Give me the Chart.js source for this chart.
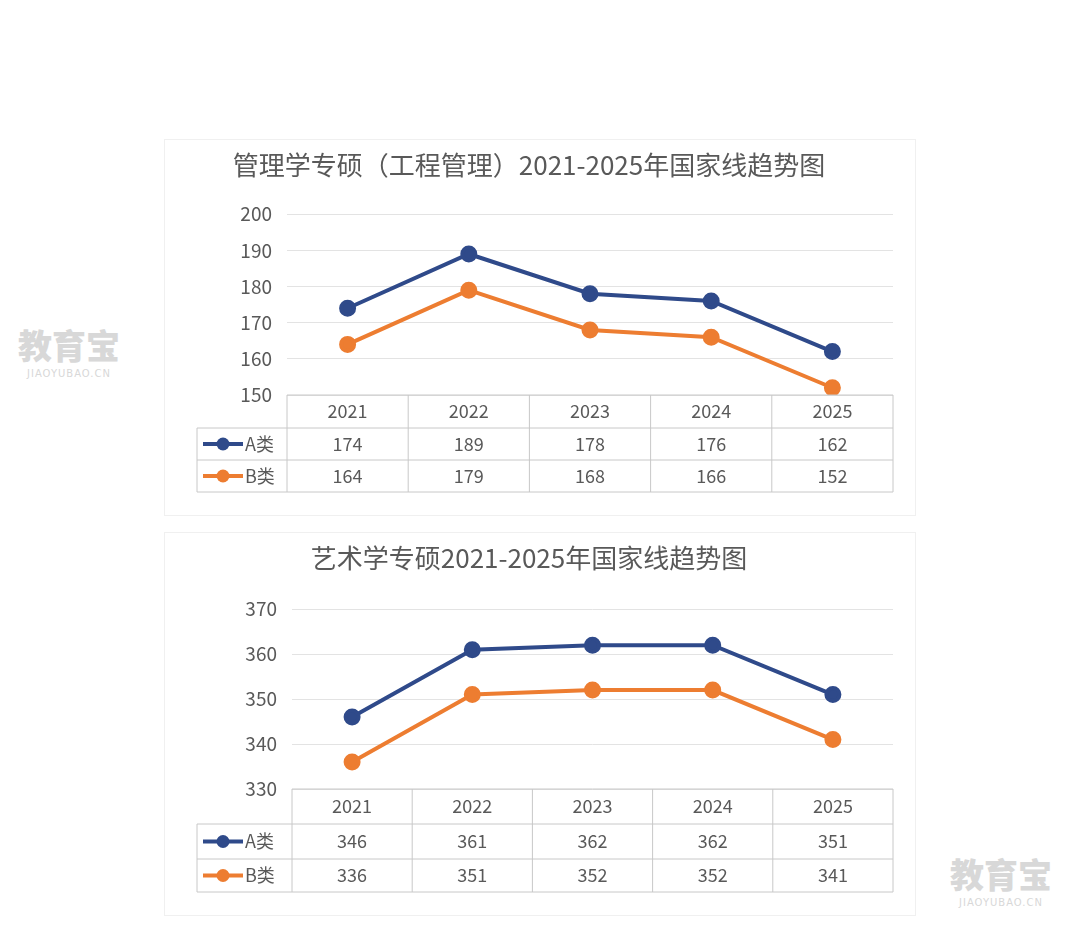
<!DOCTYPE html>
<html><head><meta charset="utf-8">
<script src="https://cdn.jsdelivr.net/npm/chart.js@4"></script>
<style>
body{margin:0;width:1080px;height:929px;background:#fff;position:relative;overflow:hidden;font-family:"Noto Sans CJK SC",sans-serif}
.panel{position:absolute;background:#fff;box-shadow:0 0 0 1px #f0f0f0}
.wm{position:absolute;color:#d8d8d8;text-align:center;line-height:1}
.wm b{display:block;font-size:34px;font-weight:900}
.wm span{font-size:10px;letter-spacing:1px;font-family:"DejaVu Sans"}
</style></head><body>
<div class="panel" style="left:165px;top:140px;width:750px;height:375px"><canvas id="c1"></canvas></div>
<div class="panel" style="left:165px;top:533px;width:750px;height:382px"><canvas id="c2"></canvas></div>
<div class="wm" style="left:18px;top:328px"><b>教育宝</b><span>JIAOYUBAO.CN</span></div>
<div class="wm" style="left:950px;top:857px"><b>教育宝</b><span>JIAOYUBAO.CN</span></div>
<script>
const years=['2021','2022','2023','2024','2025'];
const seriesNames=['A类','B类'];
const title1='管理学专硕（工程管理）2021-2025年国家线趋势图';
const a1=[174,189,178,176,162];
const b1=[164,179,168,166,152];
const title2='艺术学专硕2021-2025年国家线趋势图';
const a2=[346,361,362,362,351];
const b2=[336,351,352,352,341];
const colA='#2F4A8A', colB='#ED7D31', txt='#595959';

function make(id,w,h,title,A,B,min,max,axisW,tp,tb,rows,tableLeft){
  const cv=document.getElementById(id);cv.width=w;cv.height=h;cv.style.width=w+'px';cv.style.height=h+'px';
  const table={id:'tbl',afterDraw(ch){
    const c=ch.ctx,ca=ch.chartArea,xs=ch.scales.x;
    const step=(ca.right-ca.left)/years.length;
    c.save();c.strokeStyle='#c8c8c8';c.lineWidth=1;
    let y0=ca.bottom;const ys=[y0,y0+rows[0],y0+rows[0]+rows[1],y0+rows[0]+rows[1]+rows[2]];
    c.beginPath();
    c.moveTo(ca.left,ys[0]);c.lineTo(ca.right,ys[0]);
    for(let r=1;r<4;r++){c.moveTo(tableLeft,ys[r]);c.lineTo(ca.right,ys[r]);}
    c.moveTo(tableLeft,ys[1]);c.lineTo(tableLeft,ys[3]);
    for(let i=0;i<=years.length;i++){const x=ca.left+i*step;c.moveTo(x,ys[0]);c.lineTo(x,ys[3]);}
    c.stroke();
    c.font='18px "Noto Sans CJK SC"';c.fillStyle=txt;c.textAlign='center';c.textBaseline='middle';
    years.forEach((yr,i)=>{const x=xs.getPixelForValue(i);
      c.fillText(yr,x,(ys[0]+ys[1])/2);
      c.fillText(String(A[i]),x,(ys[1]+ys[2])/2);
      c.fillText(String(B[i]),x,(ys[2]+ys[3])/2);});
    const cols=[colA,colB];
    for(let r=0;r<2;r++){const ym=(ys[r+1]+ys[r+2])/2;
      c.strokeStyle=cols[r];c.lineWidth=4;c.beginPath();c.moveTo(tableLeft+6,ym);c.lineTo(tableLeft+46,ym);c.stroke();
      c.fillStyle=cols[r];c.beginPath();c.arc(tableLeft+26,ym,6.5,0,Math.PI*2);c.fill();
      c.fillStyle=txt;c.textAlign='left';c.fillText(seriesNames[r],tableLeft+48,ym);c.textAlign='center';}
    c.restore();}};
  new Chart(cv,{type:'line',data:{labels:years,datasets:[
    {label:seriesNames[0],data:A,borderColor:colA,backgroundColor:colA,borderWidth:4,pointRadius:6.5,pointHoverRadius:6.5},
    {label:seriesNames[1],data:B,borderColor:colB,backgroundColor:colB,borderWidth:4,pointRadius:6.5,pointHoverRadius:6.5}]},
   options:{responsive:false,animation:false,
    layout:{padding:{top:0,right:22,bottom:rows[0]+rows[1]+rows[2]+23,left:0}},
    plugins:{legend:{display:false},tooltip:{enabled:false},
      title:{display:true,text:title,color:txt,font:{size:26,weight:'normal',family:'"Noto Sans CJK SC"'},padding:{top:tp,bottom:tb}}},
    scales:{x:{display:false,offset:true},
      y:{min:min,max:max,ticks:{stepSize:10,color:txt,font:{size:19,family:'"Noto Sans CJK SC"'},padding:15},
        grid:{color:'#e3e3e3',drawTicks:false},border:{display:false},
        afterFit(s){s.width=axisW;}}}},plugins:[table]});
}
make('c1',750,375,title1,a1,b1,150,200,122,10,33,[33,32,32],32);
make('c2',750,382,title2,a2,b2,330,370,127,10,35,[35,35,33],32);
</script></body></html>
